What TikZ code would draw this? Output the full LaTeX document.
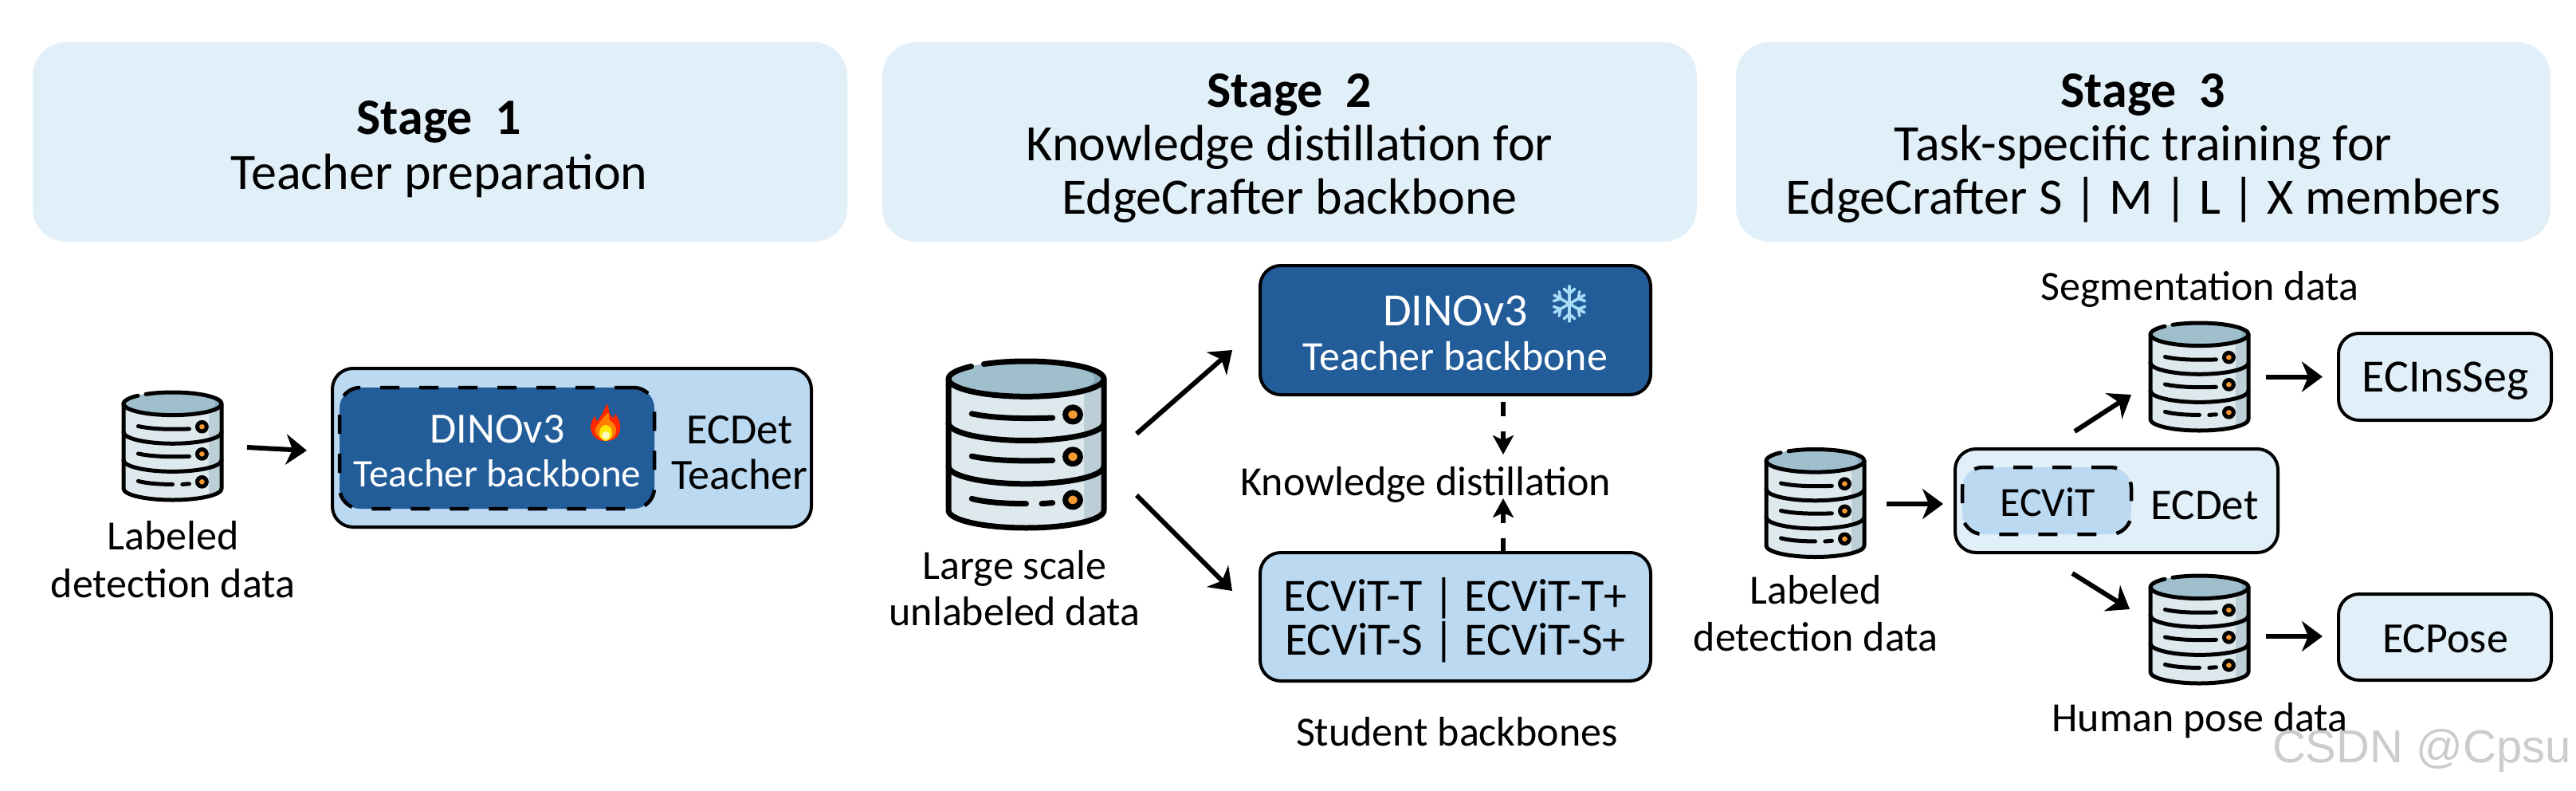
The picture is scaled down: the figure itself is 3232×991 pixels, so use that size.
\documentclass[tikz,border=0pt]{standalone}
\usepackage{fontspec}
\setmainfont{Carlito}
\newfontfamily\wmfont{Liberation Sans}
\usetikzlibrary{arrows.meta}
\definecolor{headblue}{HTML}{E1EFF9}
\definecolor{midblue}{HTML}{BBD9F1}
\definecolor{darkblue}{HTML}{225C99}
\definecolor{dbtop}{HTML}{9FBFCC}
\definecolor{dbtopd}{HTML}{84A8B9}
\definecolor{dbbody}{HTML}{DEE9EE}
\definecolor{dbshade}{HTML}{BCCFD7}
\definecolor{dbdot}{HTML}{F59A33}
\definecolor{snow}{HTML}{A9DCF8}
\newcommand{\fs}[1]{\fontsize{#1}{#1}\selectfont}
% name, cx, cy, w, h, line width
\newcommand{\dbicon}[6]{%
  \node[minimum width=#4pt,minimum height=#5pt,inner sep=0pt,outer sep=0pt] (#1) at (#2,#3) {};
  \begin{scope}[shift={({#2-#4/2},{#3-#5/2})},xscale=#4,yscale=#5,line width=#6pt,line cap=round,line join=round]
    \begin{scope}
      \clip (0,.106) -- (0,.895) arc[start angle=180,end angle=0,x radius=.5,y radius=.105] -- (1,.106) -- cycle;
      \fill[dbbody] (0,0) rectangle (1,1);
      \fill[dbshade] (.87,0) rectangle (1,1);
    \end{scope}
    \begin{scope}
      \clip (.5,.106) ellipse[x radius=.5,y radius=.106];
      \fill[dbtopd] (0,0) rectangle (1,.3);
      \fill[dbtop] (.44,.106) ellipse[x radius=.5,y radius=.106];
    \end{scope}
    \draw (0,.106) -- (0,.895) arc[start angle=180,end angle=0,x radius=.5,y radius=.105] -- (1,.106);
    \draw (.5,.106) ++(237:.5 and .106) arc[start angle=237,end angle=585,x radius=.5,y radius=.106];
    \draw (0,.37) arc[start angle=180,end angle=0,x radius=.5,y radius=.106];
    \draw (0,.63) arc[start angle=180,end angle=0,x radius=.5,y radius=.106];
    \draw (.15,.315) .. controls (.3,.345) and (.5,.345) .. (.67,.34);
    \draw (.15,.57) .. controls (.3,.6) and (.5,.6) .. (.67,.595);
    \draw (.15,.825) .. controls (.25,.85) and (.4,.855) .. (.5,.855);
    \draw (.6,.855) -- (.67,.85);
    \foreach \v in {.32,.573,.832}{
      \filldraw[fill=dbdot] (.8,\v) ellipse[x radius=.048,y radius=.043];
    }
  \end{scope}
}
\tikzset{
  header/.style={fill=headblue,rounded corners=42pt,minimum width=1022pt,minimum height=250pt,inner sep=0pt,outer sep=0pt,align=center,font=\fs{64},text=black},
  boxed/.style={draw=black,line width=4pt,rounded corners=26pt,inner sep=0pt,outer sep=0pt},
  innerbox/.style={draw=black,line width=4.5pt,dash pattern=on 24pt off 25pt,rounded corners=26pt,inner sep=0pt,outer sep=0pt},
  label/.style={font=\fs{52},align=center,inner sep=0pt,outer sep=0pt},
  arr/.style={line width=6pt,-{Stealth[length=26pt,width=38pt,inset=8pt]}},
  darr/.style={line width=5.5pt,dash pattern=on 18pt off 19pt,-{Stealth[length=24pt,width=26pt,inset=6pt]}},
}
\begin{document}
\begin{tikzpicture}[x=1pt,y=-1pt,baseline=0pt]
\useasboundingbox (0,0) rectangle (3232,991);
\fill[white] (0,0) rectangle (3232,991);
% headers
\node[header] (h1) at (552,178) {};
\node[header] (h2) at (1618,178) {};
\node[header] (h3) at (2689,178) {};
\node[label,font=\fs{64}] (h1t) at (551,187) {\textbf{Stage\ \ 1}\\[5pt]Teacher preparation};
\node[label,font=\fs{64}] (h2t) at (1618,186) {\textbf{Stage\ \ 2}\\[3pt]Knowledge distillation for\\[3pt]EdgeCrafter backbone};
\node[label,font=\fs{64}] (h3t) at (2689,186) {\textbf{Stage\ \ 3}\\[3pt]Task-specific training for\\[3pt]EdgeCrafter S | M | L | X members};
% stage 1
\dbicon{dba}{216.5}{559.5}{123}{135}{5}
\node[label] (la) at (217,702) {Labeled\\[8pt]detection data};
\node[boxed,fill=midblue,minimum width=601pt,minimum height=199pt] (oa) at (717.5,561.5) {};
\node[innerbox,fill=darkblue,minimum width=395pt,minimum height=152pt] (ia) at (623.5,562) {};
\node[label,font=\fs{49},text=white] (iat) at (624,566) {{\fs{54}DINOv3}\\[6pt]Teacher backbone};
\node[label,font=\fs{54}] (ta) at (928,568) {ECDet\\[3pt]Teacher};
\draw[arr] ([xshift=32pt,yshift=-1.5pt]dba.east) -- ([xshift=-32pt,yshift=-3.5pt]oa.west);
\begin{scope}[shift={(760,530)}]
  \fill[red!70!orange] plot[smooth cycle,tension=.7] coordinates {(0,23)(-13,19)(-19,6)(-14,-8)(-11,-2)(-4,-12)(2,-23)(5,-11)(10,-6)(12,-11)(18,3)(14,18)};
  \fill[orange] plot[smooth cycle,tension=.7] coordinates {(0,22)(-10,17)(-13,8)(-8,0)(-3,-6)(3,-12)(5,-3)(9,0)(13,8)(10,18)};
  \fill[yellow!90!orange] (0,13) ellipse[x radius=8,y radius=10];
  \fill[yellow!25] (0,16) circle[radius=5];
\end{scope}
% stage 2
\dbicon{dbb}{1287.5}{557.5}{195}{209}{7}
\node[label] (lb) at (1273,738) {Large scale\\[6pt]unlabeled data};
\node[boxed,fill=darkblue,minimum width=490pt,minimum height=162pt] (tb) at (1826,414) {};
\node[label,text=white] (tbt) at (1826,418) {{\fs{58}DINOv3}\\[4pt]Teacher backbone};
\node[boxed,fill=midblue,minimum width=490pt,minimum height=161pt] (sb) at (1826,773.5) {};
\node[label,font=\fs{58}] (sbt) at (1826,778) {ECViT-T | ECViT-T+\\[-3pt]ECViT-S | ECViT-S+};
\node[label] (kd) at (1789,608) {Knowledge distillation};
\node[label] (st) at (1828,918) {Student backbones};
\draw[arr] ([xshift=41pt,yshift=13.5pt]dbb.east) -- ([xshift=-35pt,yshift=-25pt]tb.west);
\draw[arr] ([xshift=41pt,yshift=-63.5pt]dbb.east) -- ([xshift=-35pt,yshift=32.5pt]sb.west);
\draw[darr] ([xshift=60pt,yshift=-9pt]tb.south) -- ([xshift=60pt,yshift=-75pt]tb.south);
\draw[darr] ([xshift=60pt]sb.north) -- ([xshift=60pt,yshift=68pt]sb.north);
\begin{scope}[shift={(1969,381)},line width=3.5pt,line cap=round]
  \foreach \a in {30,90,150,210,270,330}{
    \draw[snow] (0,0) -- (\a:22);
    \draw[snow] (\a:13) -- ++(\a+50:9);
    \draw[snow] (\a:13) -- ++(\a-50:9);
  }
\end{scope}
% stage 3
\dbicon{dbl}{2277.5}{631}{123}{135}{5}
\dbicon{dbs}{2759.5}{472.5}{123}{135}{5}
\dbicon{dbp}{2759.5}{789.5}{123}{135}{5}
\node[label] (ll) at (2278,769) {Labeled\\[7pt]detection data};
\node[label] (ls) at (2760,363) {Segmentation data};
\node[label] (lp) at (2760,904) {Human pose data};
\node[boxed,fill=headblue,minimum width=405pt,minimum height=130pt] (ec) at (2655.5,628) {};
\node[innerbox,fill=midblue,minimum width=212pt,minimum height=84pt] (iv) at (2568,628) {};
\node[label] (ivt) at (2569,630) {ECViT};
\node[label,font=\fs{55}] (ed) at (2766,634) {ECDet};
\node[boxed,fill=headblue,minimum width=267pt,minimum height=109pt] (is) at (3067.5,472.5) {};
\node[label,font=\fs{58}] (ist) at (3068,478) {ECInsSeg};
\node[boxed,fill=headblue,minimum width=267pt,minimum height=108pt] (ps) at (3067.5,799) {};
\node[label,font=\fs{54}] (pst) at (3068,801) {ECPose};
\draw[arr] ([xshift=28pt,yshift=-1pt]dbl.east) -- ([xshift=-15pt,yshift=-4pt]ec.west);
\draw[arr] ([xshift=-52.5pt,yshift=22pt]ec.north) -- ([xshift=-24pt,yshift=-22.5pt]dbs.west);
\draw[arr] ([xshift=-55.5pt,yshift=-26pt]ec.south) -- ([xshift=-26pt,yshift=25.5pt]dbp.west);
\draw[arr] ([xshift=22pt]dbs.east) -- ([xshift=-20pt]is.west);
\draw[arr] ([xshift=22pt,yshift=-8.5pt]dbp.east) -- ([xshift=-20pt,yshift=1pt]ps.west);
% watermark
\node[font=\wmfont\fs{58},text=black!22,anchor=east,inner sep=0pt,opacity=.9] (wm) at (3226,941) {CSDN @Cpsu};
\end{tikzpicture}
\end{document}
